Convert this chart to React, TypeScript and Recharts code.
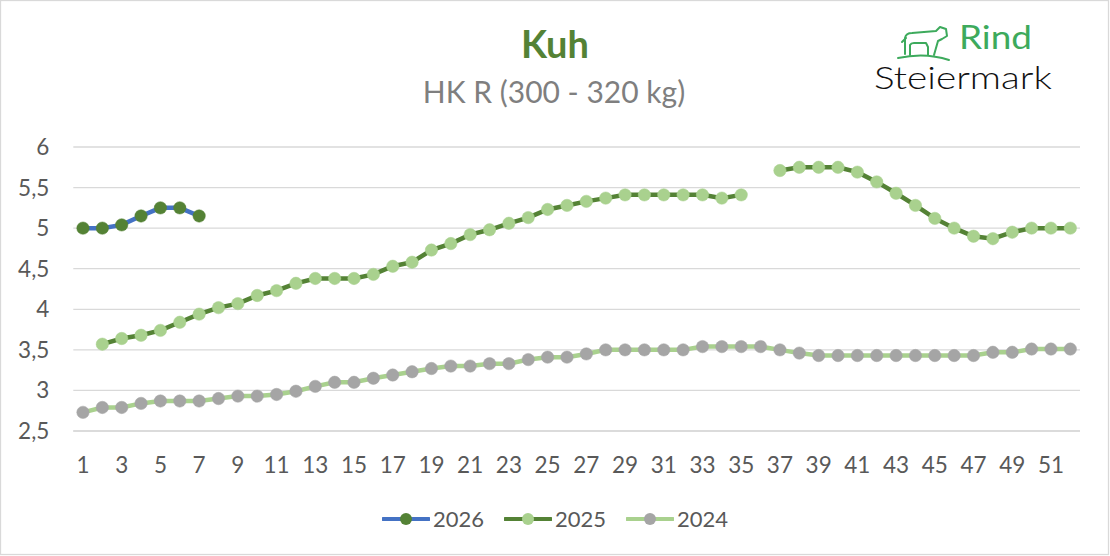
import React from 'react';
import { LineChart, Line, XAxis, YAxis, CartesianGrid, Legend } from 'recharts';

const weeks: number[] = [1,2,3,4,5,6,7,8,9,10,11,12,13,14,15,16,17,18,19,20,21,22,23,24,25,26,27,28,29,30,31,32,33,34,35,36,37,38,39,40,41,42,43,44,45,46,47,48,49,50,51,52];

const v2026: (number | null)[] = [5.0,5.0,5.04,5.15,5.25,5.25,5.15,
  null,null,null,null,null,null,null,null,null,null,null,null,null,null,null,null,null,null,null,null,null,null,null,
  null,null,null,null,null,null,null,null,null,null,null,null,null,null,null,null,null,null,null,null,null,null];

const v2025: (number | null)[] = [null,3.57,3.64,3.68,3.74,3.84,3.94,4.02,4.07,4.17,
  4.23,4.32,4.38,4.38,4.38,4.43,4.53,4.58,4.73,4.81,
  4.92,4.98,5.06,5.13,5.23,5.28,5.33,5.37,5.41,5.41,
  5.41,5.41,5.41,5.37,5.41,null,5.71,5.75,5.75,5.75,
  5.69,5.57,5.43,5.28,5.12,5.0,4.9,4.87,4.95,5.0,
  5.0,5.0];

const v2024: (number | null)[] = [2.73,2.79,2.79,2.84,2.87,2.87,2.87,2.9,2.93,2.93,
  2.95,2.99,3.05,3.1,3.1,3.15,3.19,3.23,3.27,3.3,
  3.3,3.33,3.33,3.38,3.41,3.41,3.45,3.5,3.5,3.5,
  3.5,3.5,3.54,3.54,3.54,3.54,3.5,3.46,3.43,3.43,
  3.43,3.43,3.43,3.43,3.43,3.43,3.43,3.47,3.47,3.51,
  3.51,3.51];

const yTicks: number[] = [2.5, 3, 3.5, 4, 4.5, 5, 5.5, 6];

const seriesNames = ['2026', '2025', '2024'];

const data = weeks.map((w, i) => ({
  week: w,
  s2026: v2026[i],
  s2025: v2025[i],
  s2024: v2024[i],
}));

const FONT = 'Lato, "Open Sans", sans-serif';

const legendItems = [
  { name: seriesNames[0], line: '#4472C4', dot: '#548235' },
  { name: seriesNames[1], line: '#548235', dot: '#A9D18E' },
  { name: seriesNames[2], line: '#A9D18E', dot: '#A5A5A5' },
];

const LegendContent = () => (
  <div style={{ display: 'flex', justifyContent: 'center', alignItems: 'center', fontFamily: FONT, fontSize: 22, color: '#595959' }}>
    {legendItems.map((it) => (
      <div key={it.name} style={{ display: 'flex', alignItems: 'center', margin: '0 10px' }}>
        <svg width={48} height={20} style={{ display: 'block' }}>
          <line x1={1} y1={10} x2={47} y2={10} stroke={it.line} strokeWidth={4} strokeLinecap="round" />
          <circle cx={24} cy={10} r={6} fill={it.dot} />
        </svg>
        <span style={{ marginLeft: 3 }}>{it.name}</span>
      </div>
    ))}
  </div>
);

export default function App() {
  return (
    <div style={{ position: 'fixed', left: 0, top: 0, width: 1110, height: 556, background: '#fff' }}>
      <LineChart width={1110} height={556} data={data} margin={{ top: 147, right: 30, bottom: 85, left: 0 }}>
        <CartesianGrid vertical={false} stroke="#D9D9D9" strokeWidth={1.3} />
        <XAxis
          dataKey="week"
          interval={1}
          height={40}
          padding={{ left: 9.68, right: 9.68 }}
          axisLine={{ stroke: '#D9D9D9', strokeWidth: 1.3 }}
          tickLine={false}
          tickSize={0}
          tickMargin={26}
          tick={{ fill: '#595959', fontSize: 22.5, fontFamily: FONT }}
        />
        <YAxis
          width={73.3}
          domain={[2.5, 6]}
          ticks={yTicks}
          axisLine={false}
          tickLine={false}
          tickSize={0}
          tickMargin={24}
          tickFormatter={(v: number) => String(v).replace('.', ',')}
          tick={{ fill: '#595959', fontSize: 22.5, fontFamily: FONT }}
        />
        <Legend verticalAlign="middle" align="center" layout="horizontal" content={<LegendContent />}
          wrapperStyle={{ top: 505, left: 0, width: 1110 }} />
        <Line type="linear" dataKey="s2026" name={seriesNames[0]} stroke="#4472C4" strokeWidth={4.5}
          dot={{ r: 6.2, fill: '#548235', stroke: '#548235', strokeWidth: 0.5 }} activeDot={false} isAnimationActive={false} connectNulls={false} />
        <Line type="linear" dataKey="s2025" name={seriesNames[1]} stroke="#548235" strokeWidth={4.5}
          dot={{ r: 6.2, fill: '#A9D18E', stroke: '#A9D18E', strokeWidth: 0.5 }} activeDot={false} isAnimationActive={false} connectNulls={false} />
        <Line type="linear" dataKey="s2024" name={seriesNames[2]} stroke="#A9D18E" strokeWidth={4.5}
          dot={{ r: 6.2, fill: '#A5A5A5', stroke: '#A5A5A5', strokeWidth: 0.5 }} activeDot={false} isAnimationActive={false} connectNulls={false} />
      </LineChart>
      <svg width={1110} height={556} style={{ position: 'absolute', left: 0, top: 0, pointerEvents: 'none' }}>
        <rect x={0.5} y={0.5} width={1108} height={554} fill="none" stroke="#D9D9D9" strokeWidth={1.3} />
        <text x={555} y={58} textAnchor="middle" fontFamily={FONT} fontWeight={700} fontSize={38} fill="#548235">Kuh</text>
        <text x={554} y={103} textAnchor="middle" fontFamily={FONT} fontSize={30} fill="#7F7F7F">HK R (300 - 320 kg)</text>
        <g fill="none" stroke="#3DAA5C" strokeWidth={2} strokeLinecap="round" strokeLinejoin="round">
          <path d="M898 58 Q925 52 949 60" />
          <path d="M905 54 L905 38 Q906 33 912 33 L936 31 L940 27 L946 29 L947 36 L942 39 L938 41 L934 55" />
          <path d="M910 55 L910 45 Q911 43 914 43 L926 43 L928 47 L928 55" />
          <path d="M906 38 L902 42" />
        </g>
        <text x={959} y={49} fontFamily={FONT} fontSize={32} fill="#3DAA5C" textLength={73} lengthAdjust="spacingAndGlyphs">Rind</text>
        <text x={874} y={89} fontFamily={FONT} fontWeight={300} fontSize={31} fill="#111" textLength={178} lengthAdjust="spacingAndGlyphs">Steiermark</text>
      </svg>
    </div>
  );
}
